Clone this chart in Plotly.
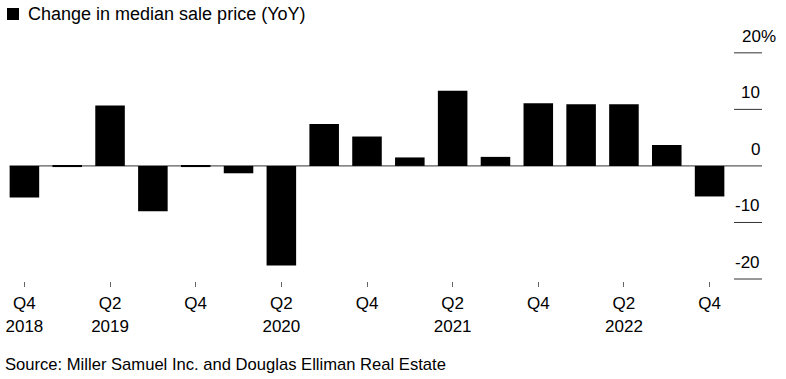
import plotly.graph_objects as go

# ---- data ----
quarters = ["Q4 2018", "Q1 2019", "Q2 2019", "Q3 2019", "Q4 2019",
            "Q1 2020", "Q2 2020", "Q3 2020", "Q4 2020",
            "Q1 2021", "Q2 2021", "Q3 2021", "Q4 2021",
            "Q1 2022", "Q2 2022", "Q3 2022", "Q4 2022"]
yoy_change = [-5.6, -0.2, 10.7, -8.0, -0.2, -1.3, -17.6, 7.4, 5.2,
              1.5, 13.3, 1.6, 11.1, 10.9, 10.9, 3.7, -5.4]
x_tick_cats = ["Q4 2018", "Q2 2019", "Q4 2019", "Q2 2020", "Q4 2020",
               "Q2 2021", "Q4 2021", "Q2 2022", "Q4 2022"]
x_tick_text = ["Q4<br>2018", "Q2<br>2019", "Q4", "Q2<br>2020", "Q4",
               "Q2<br>2021", "Q4", "Q2<br>2022", "Q4"]
y_tick_vals = [20, 10, 0, -10, -20]
y_tick_text = ["20%", "10", "0", "-10", "-20"]

title = "Change in median sale price (YoY)"
source = "Source: Miller Samuel Inc. and Douglas Elliman Real Estate"

# ---- layout geometry ----
W, H = 786, 379
L, R, T, B = 3, 55, 50, 98
PW, PH = W - L - R, H - T - B
FONT = "Liberation Sans, Arial, sans-serif"


def px_x(px):
    return (px - L) / PW


def px_y(py):
    return (T + PH - py) / PH


fig = go.Figure()
fig.add_trace(go.Bar(x=quarters, y=yoy_change, marker=dict(color="#000000", line=dict(width=0)),
                     showlegend=False, hoverinfo="x+y"))

shapes = []
annotations = []
# right-side gridline stubs and labels
for v, t in zip(y_tick_vals, y_tick_text):
    if v != 0:
        shapes.append(dict(type="line", xref="paper", yref="y", x0=px_x(734), x1=px_x(762),
                           y0=v, y1=v, line=dict(color="#333333", width=1)))
    xshift = 15.5 if t.endswith("%") else 0
    annotations.append(dict(text=t, xref="paper", yref="y", x=px_x(762), y=v,
                            xanchor="right", yanchor="middle", yshift=16.5, xshift=xshift,
                            showarrow=False, font=dict(family=FONT, size=17, color="#000")))
# zero line across plot
shapes.append(dict(type="line", xref="x", yref="y", x0=-0.345, x1=16.5, y0=0, y1=0,
                   line=dict(color="#333333", width=1), layer="below"))
shapes.append(dict(type="line", xref="paper", yref="y", x0=1.0, x1=px_x(762), y0=0, y1=0,
                   line=dict(color="#333333", width=1)))
# legend square
shapes.append(dict(type="rect", xref="paper", yref="paper", x0=px_x(7), x1=px_x(19),
                   y0=px_y(20), y1=px_y(8), fillcolor="#000", line=dict(width=0)))

annotations.append(dict(text=title, xref="paper", yref="paper", x=px_x(26), y=px_y(14),
                        xanchor="left", yanchor="middle", showarrow=False,
                        font=dict(family=FONT, size=18, color="#000")))
annotations.append(dict(text=source, xref="paper", yref="paper", x=px_x(3), y=px_y(364),
                        xanchor="left", yanchor="middle", showarrow=False,
                        font=dict(family=FONT, size=16.6, color="#000")))

fig.update_layout(
    width=W, height=H,
    margin=dict(l=L, r=R, t=T, b=B, pad=0),
    plot_bgcolor="white", paper_bgcolor="white",
    bargap=0.31,
    shapes=shapes, annotations=annotations,
    xaxis=dict(type="category", range=[-0.5, 16.5], tickmode="array",
               tickvals=x_tick_cats, ticktext=x_tick_text,
               ticks="outside", ticklen=5, tickwidth=1, tickcolor="#666666",
               ticklabelstandoff=2,
               showgrid=False, showline=False, zeroline=False,
               tickfont=dict(family=FONT, size=17, color="#000")),
    yaxis=dict(range=[-20.35, 20.5], showgrid=False, zeroline=False,
               showticklabels=False, showline=False),
    showlegend=False,
)

fig.write_html("out.html", config={"displayModeBar": False},
               post_script="document.body.style.margin='0';")
